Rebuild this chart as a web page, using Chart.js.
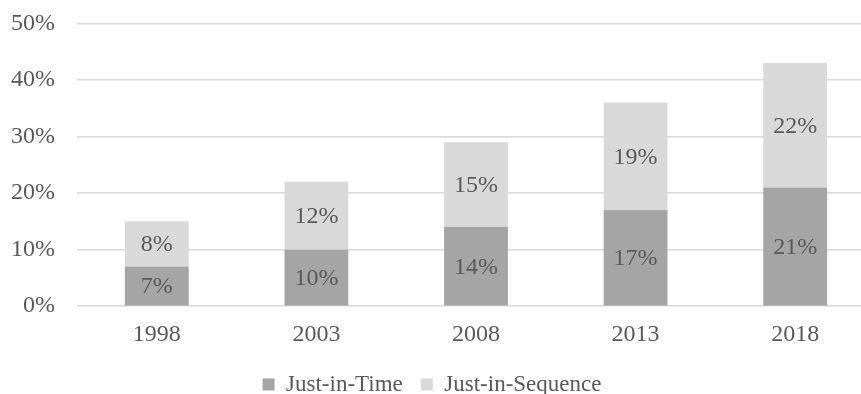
<!DOCTYPE html>
<html>
<head>
<meta charset="utf-8">
<script src="https://cdn.jsdelivr.net/npm/chart.js@4/dist/chart.umd.min.js"></script>
<style>
  html, body { margin: 0; padding: 0; background: #fff; overflow: hidden; width: 861px; height: 394px; }
  #wrap { width: 886px; height: 419px; position: absolute; left: -11px; top: -13px; }
</style>
</head>
<body>
<div id="wrap"><canvas id="c"></canvas></div>
<script>
const categories = ["1998", "2003", "2008", "2013", "2018"];
const justInTime = [7, 10, 14, 17, 21];
const justInSequence = [8, 12, 15, 19, 22];
const seriesNames = ["Just-in-Time", "Just-in-Sequence"];
const seriesColors = ["#a5a5a5", "#d9d9d9"];
const textColor = "#595959";
const fontFamily = "'Liberation Serif', 'Times New Roman', serif";

const labelPlugin = {
  id: 'barLabels',
  afterDatasetsDraw(chart) {
    const ctx = chart.ctx;
    ctx.save();
    ctx.font = "24px " + fontFamily;
    ctx.fillStyle = textColor;
    ctx.textAlign = 'center';
    ctx.textBaseline = 'middle';
    chart.data.datasets.forEach((ds, di) => {
      const meta = chart.getDatasetMeta(di);
      meta.data.forEach((el, i) => {
        const y = (el.y + el.base) / 2;
        ctx.fillText(ds.data[i] + '%', el.x, y + 1);
      });
    });
    ctx.restore();
  }
};

new Chart(document.getElementById('c'), {
  type: 'bar',
  data: {
    labels: categories,
    datasets: [
      { label: seriesNames[0], data: justInTime, backgroundColor: seriesColors[0], borderWidth: 0 },
      { label: seriesNames[1], data: justInSequence, backgroundColor: seriesColors[1], borderWidth: 0 }
    ]
  },
  options: {
    responsive: true,
    maintainAspectRatio: false,
    animation: false,
    devicePixelRatio: 1,
    layout: { padding: { top: 2, left: 0, right: 0, bottom: 0 } },
    datasets: { bar: { barPercentage: 0.4, categoryPercentage: 1 } },
    plugins: {
      legend: {
        position: 'bottom',
        labels: {
          color: textColor,
          font: { family: fontFamily, size: 23 },
          boxWidth: 12,
          boxHeight: 12,
          padding: 18
        }
      },
      tooltip: { enabled: false }
    },
    scales: {
      x: {
        stacked: true,
        grid: { display: false },
        border: { display: false },
        ticks: { color: textColor, font: { family: fontFamily, size: 24 }, padding: 6 }
      },
      y: {
        stacked: true,
        min: 0,
        max: 50,
        grid: { color: '#d9d9d9', lineWidth: 1.5, drawTicks: false },
        border: { display: false },
        ticks: {
          stepSize: 10,
          color: textColor,
          font: { family: fontFamily, size: 24 },
          padding: 22,
          callback: v => v + '%'
        }
      }
    }
  },
  plugins: [labelPlugin]
});
</script>
</body>
</html>
